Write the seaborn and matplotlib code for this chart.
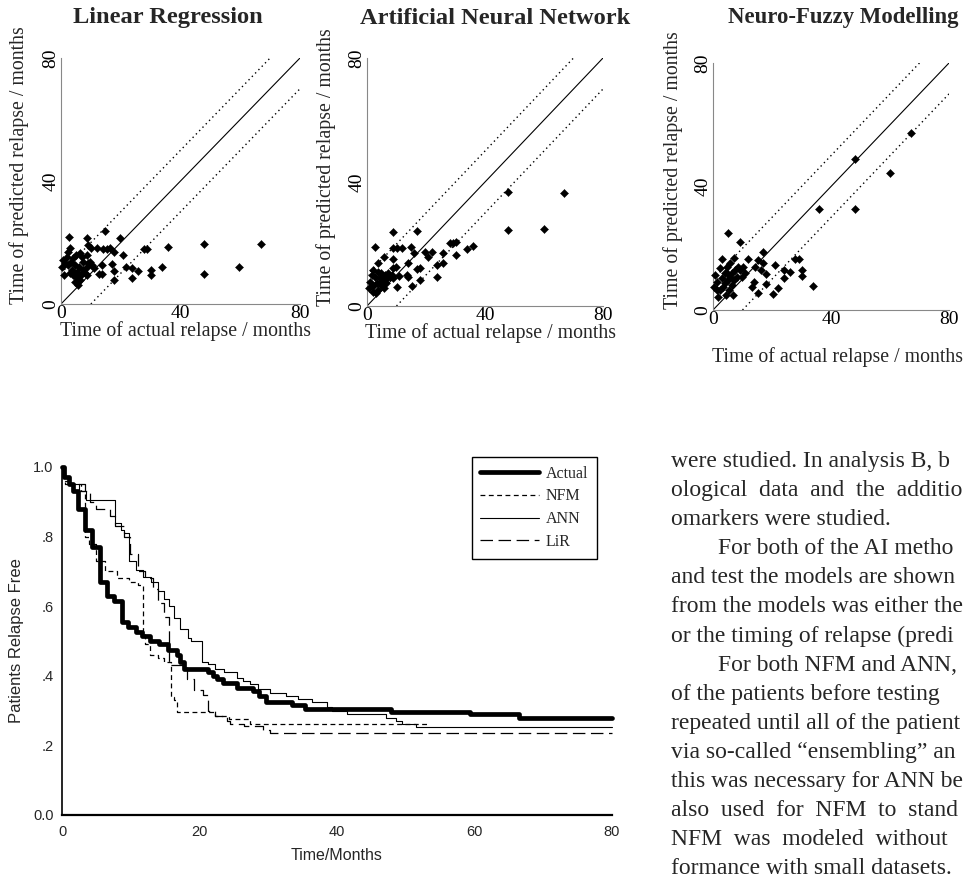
import matplotlib
matplotlib.use("Agg")
import matplotlib.pyplot as plt
import numpy as np
import pandas as pd
import seaborn as sns

# ---- scatter data: (actual, predicted) months ----
lr_actual = [2.8, 8.8, 14.7, 19.8, 3.0, 9.2, 10.0, 11.9, 14.2, 15.3, 16.4, 17.9, 20.9, 27.9, 28.7,
             35.9, 47.9, 66.9, 59.7, 47.9, 33.7, 30.0, 30.0, 25.9, 23.7, 23.7, 21.8, 17.9, 17.9,
             17.0, 13.8, 12.8, 13.8, 5.8, 6.4, 6.9, 8.6, 0.8, 0.4, 1.3, 1.9, 2.5, 2.5, 3.4, 3.6,
             4.1, 4.1, 4.7, 4.9, 5.2, 5.8, 6.0, 6.7, 7.5, 7.5, 8.0, 8.6, 9.2, 9.7, 10.3, 5.3, 3.0,
             1.1, 4.7, 6.4, 11.2, 8.6]
lr_pred = [21.9, 21.4, 23.8, 21.6, 18.1, 19.2, 18.3, 18.3, 17.9, 17.9, 18.3, 16.8, 15.9, 17.8, 17.8,
           18.4, 19.4, 19.4, 12.1, 9.8, 12.1, 11.1, 9.4, 10.7, 11.6, 8.4, 12.1, 10.7, 7.8,
           13.0, 12.7, 9.7, 9.7, 6.2, 16.5, 15.4, 15.9, 14.3, 12.1, 13.2, 15.4, 17.0, 12.7, 13.8, 11.1,
           9.4, 14.9, 12.7, 15.9, 10.5, 8.9, 12.1, 9.4, 13.8, 11.1, 10.0, 12.1, 13.2, 13.8, 12.7, 8.4, 10.0,
           9.4, 7.3, 7.8, 11.6, 9.4]

ann_actual = [47.9, 66.9, 47.9, 60.0, 8.7, 16.8, 2.7, 8.9, 10.1, 11.8, 14.8, 15.9, 5.8, 8.9, 19.7,
              20.8, 21.9, 25.9, 25.6, 23.8, 23.8, 28.1, 29.0, 30.2, 30.2, 34.0, 36.0, 14.0, 17.1,
              18.0, 18.0, 15.1, 13.4, 14.0, 10.9, 10.1, 8.9, 9.8, 1.0, 0.8, 1.6, 2.1, 2.7, 3.3, 3.8,
              3.8, 4.4, 4.9, 4.9, 5.5, 5.8, 6.1, 6.7, 7.2, 7.8, 8.4, 3.8, 3.1, 2.0, 4.6, 6.4, 2.1, 8.9]
ann_pred = [36.9, 36.6, 24.5, 24.7, 24.0, 24.3, 18.9, 18.6, 18.6, 18.6, 18.9, 17.0, 15.9, 15.1, 17.3,
            15.7, 17.5, 17.2, 13.8, 13.2, 9.5, 20.4, 20.4, 20.8, 16.5, 18.3, 19.4, 13.8, 11.8,
            12.2, 8.4, 6.5, 10.0, 9.5, 9.7, 6.2, 12.2, 12.5, 7.8, 5.7, 10.0, 11.6, 9.5, 7.3, 11.1,
            5.2, 8.9, 10.5, 6.8, 8.4, 5.7, 10.0, 8.9, 10.5, 9.5, 10.0, 13.8, 4.1, 4.6, 7.8, 7.3, 6.5, 8.9]

nfm_actual = [67.1, 48.1, 60.1, 36.0, 48.1, 5.0, 9.2, 17.1, 12.0, 3.2, 7.2, 15.1, 17.1, 14.2, 21.0,
              27.8, 29.2, 30.1, 30.1, 24.2, 26.2, 24.1, 18.0, 18.0, 16.2, 22.1, 20.2, 34.0, 15.1,
              13.1, 14.0, 10.9, 9.2, 9.7, 0.7, 1.2, 1.2, 1.8, 2.4, 2.9, 3.5, 4.1, 4.3, 4.6, 5.2,
              5.4, 5.8, 6.3, 6.6, 6.9, 7.5, 8.0, 8.6, 2.4, 4.1, 5.8, 7.2, 0.5, 10.3, 4.6]
nfm_pred = [57.2, 48.8, 44.5, 32.7, 32.7, 24.8, 21.9, 18.9, 16.5, 16.5, 16.9, 16.2, 15.1, 14.0, 14.6,
            16.5, 16.5, 13.0, 11.1, 13.0, 12.3, 10.3, 11.6, 8.4, 13.0, 7.2, 5.1, 7.8, 5.6,
            7.6, 9.0, 11.9, 13.0, 10.8, 11.3, 9.2, 6.5, 4.3, 13.5, 10.3, 7.6, 11.9, 4.9, 14.0, 9.7,
            6.5, 15.1, 11.9, 8.1, 4.9, 13.0, 10.8, 14.0, 6.5, 8.6, 10.8, 9.7, 7.6, 14.0, 11.9]

panel_titles = ["Linear Regression", "Artificial Neural Network", "Neuro-Fuzzy Modelling"]
scatter_ticks = [0, 40, 80]

# ---- relapse-free curves (step, post) ----
actual_t = [0, 0.3, 1.0, 1.6, 2.3, 3.3, 4.3, 5.5, 6.5, 7.55, 8.75, 9.6, 10.7, 11.7, 12.8, 14.1, 15.4,
            16.7, 17.2, 17.8, 21.2, 22.0, 22.6, 23.4, 25.4, 27.8, 28.6, 29.6, 33.5, 35.3, 47.9,
            59.3, 66.5, 80]
actual_s = [1.0, 0.97, 0.95, 0.93, 0.88, 0.82, 0.77, 0.67, 0.63, 0.615, 0.555, 0.54, 0.525, 0.515,
            0.50, 0.49, 0.475, 0.46, 0.44, 0.42, 0.41, 0.40, 0.39, 0.38, 0.365, 0.355, 0.342, 0.325,
            0.315, 0.306, 0.297, 0.289, 0.28, 0.28]

nfm_t = [0, 0.4, 1.2, 2.8, 3.4, 3.9, 5.0, 6.2, 8.0, 9.8, 11.0, 11.8, 12.1, 12.8, 14.0, 14.9, 15.8,
         16.3, 16.7, 22.3, 24.3, 27.3, 53.5]
nfm_s = [1.0, 0.96, 0.95, 0.93, 0.80, 0.78, 0.73, 0.70, 0.68, 0.67, 0.66, 0.52, 0.49, 0.46, 0.45,
         0.44, 0.34, 0.33, 0.295, 0.285, 0.275, 0.262, 0.262]

ann_t = [0, 0.3, 1.2, 2.4, 3.5, 7.7, 8.6, 9.0, 9.8, 10.8, 11.8, 13.0, 13.9, 14.9, 15.6, 16.3, 17.2,
         18.3, 18.8, 20.4, 21.3, 22.3, 23.5, 25.5, 26.3, 27.3, 28.5, 30.3, 32.6, 34.3, 36.3, 38.6,
         39.3, 41.4, 47.1, 48.6, 49.4, 51.5, 80]
ann_s = [1.0, 0.97, 0.95, 0.93, 0.905, 0.84, 0.82, 0.81, 0.73, 0.705, 0.685, 0.67, 0.645, 0.62, 0.60,
         0.565, 0.535, 0.51, 0.50, 0.44, 0.433, 0.42, 0.41, 0.395, 0.385, 0.376, 0.363, 0.35, 0.341,
         0.332, 0.324, 0.311, 0.30, 0.29, 0.28, 0.27, 0.262, 0.254, 0.254]

lir_t = [0, 0.5, 3.3, 4.0, 5.0, 7.0, 7.7, 9.0, 9.9, 11.0, 12.0, 13.2, 14.0, 14.9, 15.5, 18.2, 19.2,
         20.5, 21.3, 22.3, 24.0, 24.5, 26.5, 29.3, 30.3, 80]
lir_s = [1.0, 0.95, 0.93, 0.90, 0.88, 0.86, 0.83, 0.80, 0.75, 0.70, 0.68, 0.65, 0.61, 0.57, 0.43,
         0.39, 0.36, 0.345, 0.30, 0.285, 0.27, 0.262, 0.255, 0.245, 0.236, 0.236]

curve_names = ["Actual", "NFM", "ANN", "LiR"]
surv_yticks = [0.0, 0.2, 0.4, 0.6, 0.8, 1.0]
surv_yticklabels = ["0.0", ".2", ".4", ".6", ".8", "1.0"]
surv_xticks = [0, 20, 40, 60, 80]

text_lines = [
    ("were studied. In analysis B, b", False),
    ("ological  data  and  the  additio", False),
    ("omarkers were studied.", False),
    ("For both of the AI metho", True),
    ("and test the models are shown", False),
    ("from the models was either the", False),
    ("or the timing of relapse (predi", False),
    ("For both NFM and ANN,", True),
    ("of the patients before testing", False),
    ("repeated until all of the patient", False),
    ("via so-called \u201censembling\u201d an", False),
    ("this was necessary for ANN be", False),
    ("also  used  for  NFM  to  stand", False),
    ("NFM  was  modeled  without", False),
    ("formance with small datasets.", False),
]

sns.set_style("white")
plt.rcParams["font.family"] = ["Liberation Serif", "DejaVu Serif"]
plt.rcParams["lines.scale_dashes"] = False

W, H = 963, 882
fig = plt.figure(figsize=(W / 100, H / 100), dpi=100)


def px_axes(left, top, right, bottom):
    return fig.add_axes([left / W, 1 - bottom / H, (right - left) / W, (bottom - top) / H])


# ---------------- scatter panels ----------------
panel_boxes = [(61, 58, 300, 304), (367, 58, 603, 306), (713, 63, 949, 310)]
title_x = [168, 495, 843]
title_size = [17.6, 17.6, 16.4]
xlabel_pos = [(185, 331), (490, 333), (838, 357)]
ylabel_pos = [(19, 165), (326, 167), (673, 170)]
panel_data = [(lr_actual, lr_pred), (ann_actual, ann_pred), (nfm_actual, nfm_pred)]

for i, (box, (xa, yp)) in enumerate(zip(panel_boxes, panel_data)):
    ax = px_axes(*box)
    df = pd.DataFrame({"actual": xa, "predicted": yp})
    ax.plot([0, 80], [0, 80], color="black", lw=0.8, zorder=2)
    ax.plot([0, 70], [10, 80], color="black", lw=1.0, ls=(0, (1, 2.4)), zorder=2)
    ax.plot([10, 80], [0, 70], color="black", lw=1.0, ls=(0, (1, 2.4)), zorder=2)
    sns.scatterplot(data=df, x="actual", y="predicted", marker="D", s=17, color="black",
                    edgecolor="black", linewidth=0.3, ax=ax, zorder=3, clip_on=False)
    ax.set_xlim(0, 80)
    ax.set_ylim(0, 80)
    ax.set_xticks(scatter_ticks)
    ax.set_yticks(scatter_ticks)
    ax.tick_params(axis="both", direction="in", length=3, width=0.7, colors="#888888",
                   labelcolor="black", labelsize=14, pad=1)
    for lab in ax.get_yticklabels():
        lab.set_rotation(90)
        lab.set_va("center")
    sns.despine(ax=ax)
    for sp in ("left", "bottom"):
        ax.spines[sp].set_color("#888888")
        ax.spines[sp].set_linewidth(0.8)
    ax.set_xlabel("")
    ax.set_ylabel("")
    fig.text(title_x[i] / W, 1 - 18 / H, panel_titles[i], ha="center", va="center",
             fontsize=title_size[i], fontweight="bold")
    fig.text(xlabel_pos[i][0] / W, 1 - xlabel_pos[i][1] / H, "Time of actual relapse / months",
             ha="center", va="center", fontsize=14.3)
    fig.text(ylabel_pos[i][0] / W, 1 - ylabel_pos[i][1] / H, "Time of predicted relapse / months",
             ha="center", va="center", fontsize=14.3, rotation=90)

# ---------------- relapse-free curves ----------------
ax = px_axes(62, 467, 612, 815)
curves = [(actual_t, actual_s), (nfm_t, nfm_s), (ann_t, ann_s), (lir_t, lir_s)]
styles = [dict(lw=3.4, ls="-"), dict(lw=0.9, ls=(0, (3.5, 2.5))), dict(lw=0.8, ls="-"),
          dict(lw=0.9, ls=(0, (9, 4)))]
order = [1, 3, 2, 0]
handles = {}
for k in order:
    t, s = curves[k]
    sns.lineplot(x=t, y=s, drawstyle="steps-post", color="black", estimator=None,
                 sort=False, ax=ax, zorder=3 + (k == 0))
    ln = ax.lines[-1]
    ln.set_linewidth(styles[k]["lw"])
    ln.set_linestyle(styles[k]["ls"])
    ln.set_clip_on(False)
    handles[k] = ln

ax.set_xlim(0, 80)
ax.set_ylim(0, 1.0)
ax.set_xticks(surv_xticks)
ax.set_yticks(surv_yticks)
ax.set_yticklabels(surv_yticklabels)
sns.despine(ax=ax)
ax.spines["left"].set_linewidth(1.2)
ax.spines["bottom"].set_linewidth(1.6)
ax.spines["left"].set_color("black")
ax.spines["bottom"].set_color("black")
ax.tick_params(axis="x", direction="out", length=3, width=3.5, pad=4)
ax.tick_params(axis="y", direction="out", length=3, width=2.5, pad=3)
for lab in ax.get_xticklabels() + ax.get_yticklabels():
    lab.set_family(["Liberation Sans", "DejaVu Sans"])
    lab.set_fontsize(10.5)
ax.set_xlabel("Time/Months", family=["Liberation Sans", "DejaVu Sans"], fontsize=11.5, va="center")
ax.set_ylabel("Patients Relapse Free", family=["Liberation Sans", "DejaVu Sans"], fontsize=12,
              va="center")
ax.xaxis.set_label_coords(0.499, (815 - 855) / 348)
ax.yaxis.set_label_coords((17 - 62) / 550, 0.5)

leg = ax.legend([handles[k] for k in range(4)], curve_names, loc="upper right",
                bbox_to_anchor=(0.973, 1.029), borderaxespad=0, frameon=True, fancybox=False,
                edgecolor="black", framealpha=1, fontsize=11.5, handlelength=3.7,
                handletextpad=0.4, labelspacing=0.42, borderpad=0.55)
leg.get_frame().set_linewidth(1.0)

# ---------------- body text ----------------
y0, dy = 461, 29.1
for j, (line, indent) in enumerate(text_lines):
    x = 718 if indent else 671
    fig.text(x / W, 1 - (y0 + j * dy + 6) / H, line, ha="left", va="baseline", fontsize=17)

fig.savefig("out.png", dpi=100, facecolor="white")
